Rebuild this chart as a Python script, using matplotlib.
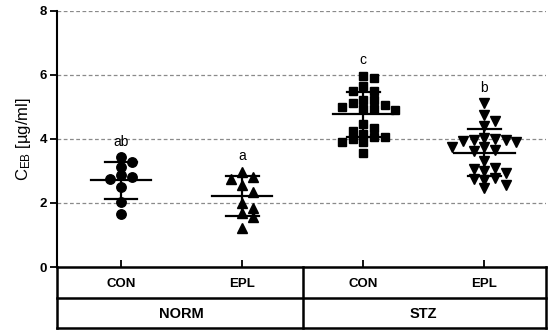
import numpy as np
import matplotlib
matplotlib.use("Agg")
import matplotlib.pyplot as plt

plt.rcParams['font.family'] = ['Liberation Sans', 'DejaVu Sans']

# ---- data ----
subgroups = ["CON", "EPL", "CON", "EPL"]
groups = ["NORM", "STZ"]
letters = ["ab", "a", "c", "b"]

norm_con = [3.26, 3.42, 3.12, 2.87, 2.81, 2.74, 2.50, 2.02, 1.65]
norm_epl = [2.97, 2.81, 2.76, 2.55, 2.35, 2.00, 1.85, 1.68, 1.55, 1.21]
stz_con = [5.88, 5.96, 5.65, 5.48, 5.48, 5.10, 5.22, 5.22, 4.94, 4.98, 4.91, 4.94,
           5.05, 4.45, 4.25, 4.32, 4.16, 3.99, 3.90, 3.90, 4.06, 4.04, 3.57]
stz_epl = [5.10, 4.74, 4.55, 4.39, 3.96, 3.90, 3.99, 4.01, 3.93, 3.96, 3.62, 3.75,
           3.75, 3.64, 3.31, 3.07, 3.10, 2.94, 2.99, 2.76, 2.79, 2.55, 2.71, 2.45]
means = [2.70, 2.22, 4.76, 3.56]
sds = [0.57, 0.63, 0.70, 0.73]

series = [norm_con, norm_epl, stz_con, stz_epl]
markers = ["o", "^", "s", "v"]
msizes = [6.8, 6.8, 5.8, 6.8]
yticks = [0, 2, 4, 6, 8]

# ---- figure ----
W, H = 550, 334
fig = plt.figure(figsize=(W / 100, H / 100), dpi=100)
left_px, right_px = 57, 546
top_px, bot_px = 10.5, 267
ax = fig.add_axes([left_px / W, 1 - bot_px / H, (right_px - left_px) / W, (bot_px - top_px) / H])
xlim = (-0.53, 3.51)
ax.set_xlim(*xlim)
ax.set_ylim(0, 8)

px_per_x = (right_px - left_px) / (xlim[1] - xlim[0])
px_per_y = (bot_px - top_px) / 8.0


def swarm(vals, wx=10.2, wy=8.0, step=5.35):
    """Greedy scatter layout: no two markers closer than wx horizontally AND wy vertically."""
    vals = np.asarray(vals)
    order = np.argsort(-vals)
    placed = []
    offs = np.zeros(len(vals))
    cands = [0]
    for s in range(1, 20):
        cands += [s, -s]
    for i in order:
        y = vals[i] * px_per_y
        for c in cands:
            x = c * step
            if all(not (abs(px - x) < wx and abs(py - y) < wy) for px, py in placed):
                placed.append((x, y))
                offs[i] = x / px_per_x
                break
    return offs


for i, vals in enumerate(series):
    vals = np.array(vals)
    offs = swarm(vals)
    ax.plot(i + offs, vals, linestyle="none", marker=markers[i], markersize=msizes[i],
            color="black", zorder=3, clip_on=False)
    m, s = means[i], sds[i]
    ax.plot([i - 0.25, i + 0.25], [m, m], color="black", lw=1.6, zorder=4)
    ax.plot([i, i], [m - s, m + s], color="black", lw=1.6, zorder=4)
    for yy in (m - s, m + s):
        ax.plot([i - 0.135, i + 0.135], [yy, yy], color="black", lw=1.6, zorder=4)
    top = vals.max()
    ax.text(i, top + 0.36, letters[i], ha="center", va="baseline", fontsize=10)

for g in [2, 4, 6, 8]:
    ax.axhline(g, color="#8a8a8a", lw=0.9, ls=(0, (3, 2)), zorder=1)

ax.set_yticks(yticks)
ax.set_yticklabels([str(t) for t in yticks], fontweight="bold", fontsize=9.5)
ax.set_xticks(range(4))
ax.set_xticklabels([])
ax.tick_params(axis="y", length=5, width=1.3, pad=2)
ax.tick_params(axis="x", length=5, width=1.3, direction="in")
for sp in ["top", "right"]:
    ax.spines[sp].set_visible(False)
ax.spines["left"].set_linewidth(1.5)
ax.spines["bottom"].set_linewidth(1.8)
ax.set_ylabel(r"$\mathregular{C_{EB}}$ [µg/ml]", fontsize=12, labelpad=5)

# ---- table below axis ----
tab_bot = 328
tab = fig.add_axes([left_px / W, 1 - tab_bot / H, (right_px - left_px) / W, (tab_bot - bot_px) / H])
tab.set_xlim(*xlim)
tab.set_ylim(0, 2)
tab.axis("off")
lw = 1.8
kw = dict(color="black", lw=lw, clip_on=False, solid_capstyle="projecting")
tab.plot([xlim[0], xlim[0]], [0, 2], **kw)
tab.plot([xlim[1], xlim[1]], [0, 2], **kw)
tab.plot([xlim[0], xlim[1]], [0, 0], **kw)
tab.plot([xlim[0], xlim[1]], [1, 1], **kw)
tab.plot([1.5, 1.5], [0, 2], **kw)
for i, lab in enumerate(subgroups):
    tab.text(i, 1.45, lab, ha="center", va="center", fontweight="bold", fontsize=9.5)
for j, g in enumerate(groups):
    tab.text(0.5 + 2 * j, 0.47, g, ha="center", va="center", fontweight="bold", fontsize=10.5)

fig.savefig("out.png", dpi=100)
